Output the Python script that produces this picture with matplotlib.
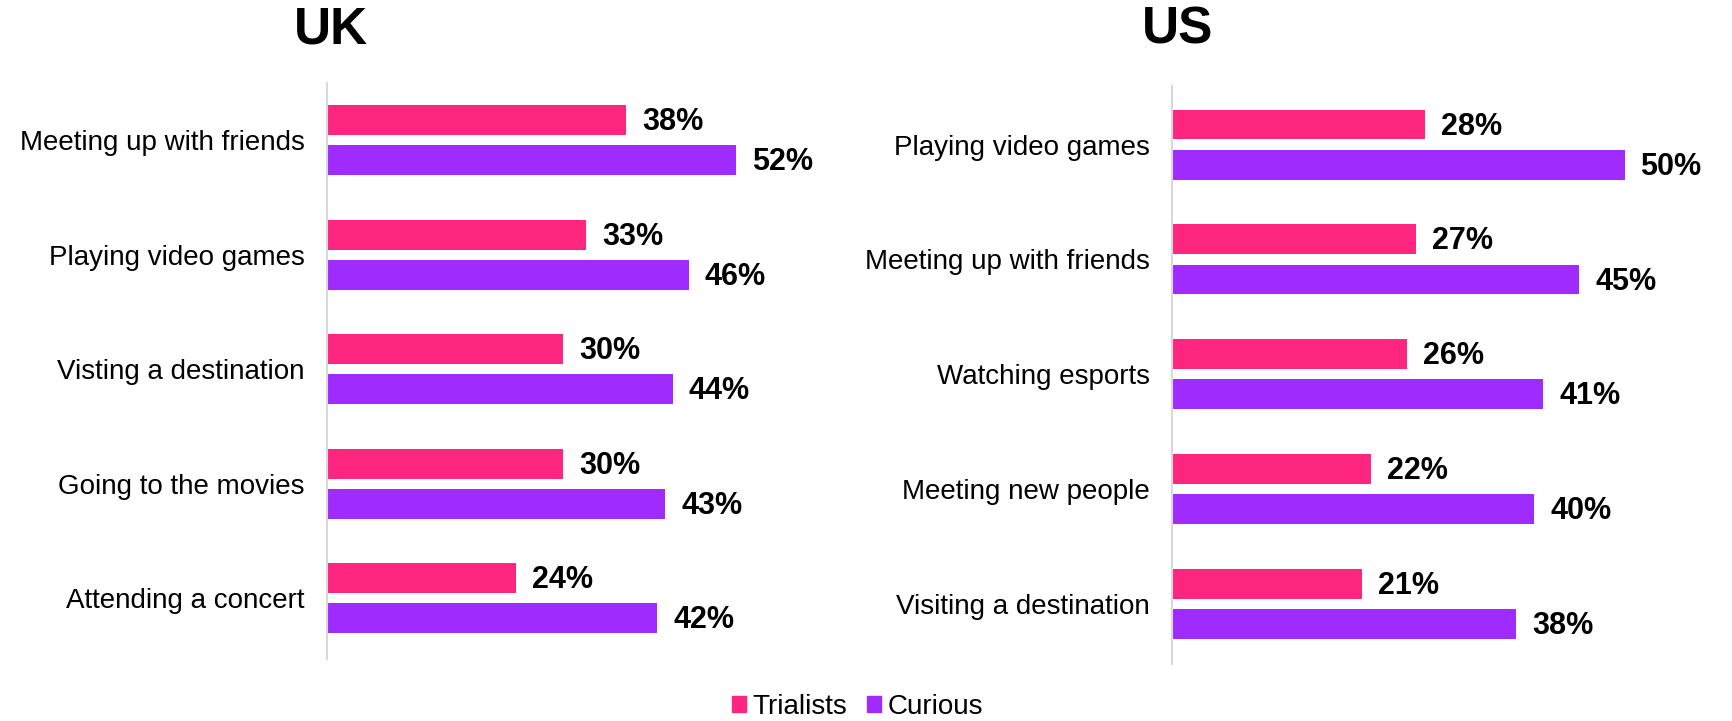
import matplotlib
matplotlib.use("Agg")
import matplotlib.pyplot as plt
from matplotlib.patches import Patch
import numpy as np

plt.rcParams['font.family'] = ['Liberation Sans', 'DejaVu Sans']

uk_categories = ["Meeting up with friends", "Playing video games", "Visting a destination",
                 "Going to the movies", "Attending a concert"]
uk_trialists = [38, 33, 30, 30, 24]
uk_curious = [52, 46, 44, 43, 42]

us_categories = ["Playing video games", "Meeting up with friends", "Watching esports",
                 "Meeting new people", "Visiting a destination"]
us_trialists = [28, 27, 26, 22, 21]
us_curious = [50, 45, 41, 40, 38]

series_names = ["Trialists", "Curious"]
PINK = "#FF2680"
PURPLE = "#A02BFF"

fig = plt.figure(figsize=(17.32, 7.21), dpi=100)

def panel(rect, cats, tri, cur, ylim):
    ax = fig.add_axes(rect)
    y = np.arange(len(cats))
    h = 0.26
    off = 0.175
    b1 = ax.barh(y - off, tri, height=h, color=PINK)
    b2 = ax.barh(y + off, cur, height=h, color=PURPLE)
    for bars, vals in ((b1, tri), (b2, cur)):
        for bar, v in zip(bars, vals):
            ax.annotate(f"{v}%", xy=(bar.get_width(), bar.get_y() + bar.get_height() / 2),
                        xytext=(11.5, -1.5), textcoords="offset points", va="center", ha="left",
                        fontsize=22, fontweight="bold", color="black")
    ax.set_xlim(0, 60)
    ax.set_ylim(*ylim)
    ax.set_yticks(y)
    ax.set_yticklabels(cats, fontsize=20)
    ax.tick_params(axis="y", length=0, pad=16)
    ax.set_xticks([])
    for s in ("top", "right", "bottom"):
        ax.spines[s].set_visible(False)
    ax.spines["left"].set_color("#D9D9D9")
    ax.spines["left"].set_linewidth(1.5)
    return ax

panel([0.1888, 0.086, 0.2724, 0.799], uk_categories, uk_trialists, uk_curious, (4.53, -0.5))
panel([0.6767, 0.0796, 0.3135, 0.801], us_categories, us_trialists, us_curious, (4.52, -0.51))

fig.text(0.191, 0.958, "UK", ha="center", va="center", fontsize=37, fontweight="heavy")
fig.text(0.680, 0.958, "US", ha="center", va="center", fontsize=37, fontweight="heavy")

handles = [Patch(color=PINK, label=series_names[0]), Patch(color=PURPLE, label=series_names[1])]
fig.legend(handles=handles, loc="center", bbox_to_anchor=(0.495, 0.02), ncol=2, frameon=False,
           fontsize=20, handlelength=0.5, handleheight=0.5, handletextpad=0.25, columnspacing=0.7)

fig.savefig("out.png", dpi=100, facecolor="white")
